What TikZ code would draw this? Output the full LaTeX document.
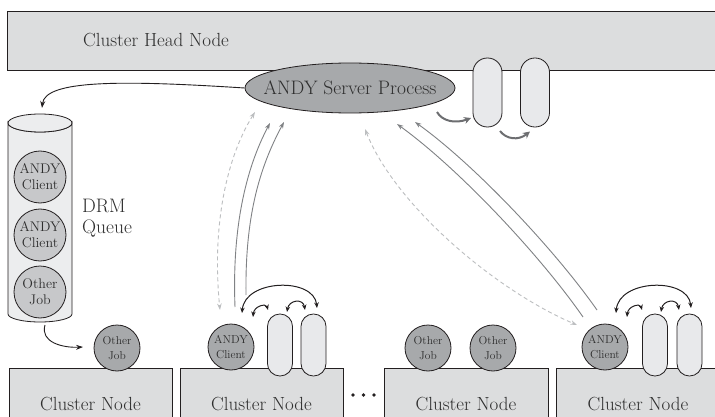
\documentclass[tikz,border=0pt]{standalone}
\usepackage{fontspec}
\usetikzlibrary{arrows.meta,shapes.geometric,calc}

\definecolor{ink}{HTML}{231F20}
\definecolor{txt}{HTML}{2E2E2E}
\definecolor{hostfill}{HTML}{DCDDDE}
\definecolor{procfill}{HTML}{A7A9AB}
\definecolor{queuejob}{HTML}{C7C8CA}
\definecolor{tubefill}{HTML}{E8E9EB}
\definecolor{cylfill}{HTML}{ECEDEE}
\definecolor{msgline}{HTML}{808285}
\definecolor{pollline}{HTML}{BCBEC0}
\definecolor{spawnline}{HTML}{6D6E71}

\tikzset{
  host/.style={draw=ink, line width=0.8pt, fill=hostfill, inner sep=0pt, text=txt,
    font=\fontsize{19}{22}\selectfont},
  job/.style={circle, draw=ink, line width=0.8pt, fill=procfill, inner sep=0pt,
    minimum size=46pt, align=center, text=txt, font=\fontsize{11.5}{14.5}\selectfont},
  queued/.style={job, fill=queuejob, minimum size=52pt, font=\fontsize{14}{16}\selectfont},
  tube/.style={draw=ink, line width=0.8pt, fill=tubefill, inner sep=0pt,
    minimum width=25pt, minimum height=62pt, rounded corners=12.4pt},
  bigtube/.style={tube, minimum width=29pt, minimum height=69pt, rounded corners=14.4pt},
  msg/.style={draw=msgline, line width=0.9pt, -{Stealth[length=6.5pt,width=4.5pt]}},
  poll/.style={draw=pollline, line width=0.9pt, dash pattern=on 4pt off 3pt,
    {Stealth[length=6.5pt,width=4.5pt]}-{Stealth[length=6.5pt,width=4.5pt]}},
  spawn/.style={draw=spawnline, line width=2pt, -{Stealth[length=7pt,width=7pt]}},
  local/.style={draw=ink, line width=1pt,
    {Stealth[length=5.5pt,width=4.5pt]}-{Stealth[length=5.5pt,width=4.5pt]}},
  submit/.style={draw=ink, line width=0.9pt, -{Stealth[length=7pt,width=5pt]}},
}

% client, its two local processes and the arcs between them
\newcommand\clientarcs[1]{%
  \draw[local] ($(#1)+(11,-34)$) .. controls ($(#1)+(14,-68)$) and ($(#1)+(83,-70)$) .. ($(#1)+(86,-39)$);
  \draw[local] ($(#1)+(22,-30)$) .. controls ($(#1)+(23,-41)$) and ($(#1)+(35,-44)$) .. ($(#1)+(37,-37)$);
  \draw[local] ($(#1)+(56,-35)$) .. controls ($(#1)+(58,-47)$) and ($(#1)+(72,-49)$) .. ($(#1)+(74,-37)$);
}

\begin{document}
\begin{tikzpicture}[x=1pt,y=-1pt]
\useasboundingbox (0,0) rectangle (715,417);
\clip (0,0) rectangle (715,417);
\fill[white] (0,0) rectangle (715,417);

% head node with the server process and its two workers
\node[host, minimum width=723pt, minimum height=59pt] (head) at (368.5,40.5) {};
\node[anchor=west, inner sep=0pt, text=txt, font=\fontsize{19}{22}\selectfont] (headlbl) at (83,40) {Cluster Head Node};
\node[ellipse, draw=ink, line width=0.8pt, fill=procfill, inner sep=0pt,
      minimum width=210pt, minimum height=50pt, text=txt,
      font=\fontsize{19.5}{22}\selectfont] (srv) at (350,88) {\makebox[0pt]{ANDY Server Process}};
\node[bigtube] (ht1) at (487.5,92.5) {};
\node[bigtube] (ht2) at (535,92.5) {};

% DRM queue
\filldraw[draw=ink, fill=cylfill, line width=0.8pt]
  (8,123) -- (8,314) arc[start angle=180, end angle=0, x radius=32, y radius=8]
  -- (72,123) arc[start angle=0, end angle=180, x radius=32, y radius=9] -- cycle;
\filldraw[draw=ink, fill=cylfill, line width=0.8pt] (40,123) ellipse [x radius=32, y radius=9];
\coordinate (qtop) at (42,108);
\coordinate (qbot) at (45,325);
\node[queued] (q1) at (40,177) {ANDY\\Client};
\node[queued] (q2) at (40,235) {ANDY\\Client};
\node[queued] (q3) at (40,292) {Other\\Job};
\node[anchor=north west, inner sep=0pt, align=left, text=txt,
      font=\fontsize{19.5}{21}\selectfont] (drm) at (82,199) {DRM\\Queue};

% cluster nodes
\node[host, minimum width=163pt, minimum height=72pt] (cn1) at (90.5,404) {Cluster Node};
\node[host, minimum width=163pt, minimum height=72pt] (cn2) at (261.5,404) {Cluster Node};
\node[host, minimum width=164pt, minimum height=72pt] (cn3) at (466,404) {Cluster Node};
\node[host, minimum width=164pt, minimum height=72pt] (cn4) at (638,404) {Cluster Node};
\foreach \dx in {353,363.5,374} \fill[ink] (\dx,395) circle (1.9pt);

% jobs running on the cluster nodes
\node[job] (oj1) at (117,348) {Other\\Job};
\node[job] (c2) at (231,347) {ANDY\\Client};
\node[tube] (t2a) at (280,345) {};
\node[tube] (t2b) at (313.5,345) {};
\node[job] (oj3a) at (428,348) {Other\\Job};
\node[job] (oj3b) at (493,348) {Other\\Job};
\node[job] (c4) at (605,347) {ANDY\\Client};
\node[tube] (t4a) at (655,345) {};
\node[tube] (t4b) at (689.5,345) {};

% local process arcs
\clientarcs{c2}
\clientarcs{c4}

% submission and dispatch
\draw[submit] (srv.west) .. controls (120,80) and (45,80) .. (qtop);
\draw[submit] (qbot) .. controls (40,342) and (62,348) .. ($(oj1)+(-34,-1)$);

% server hands work to its workers
\draw[spawn] ($(srv)+(87,24)$) .. controls (442,121) and (455,124) .. ($(ht1)+(-16.5,25.5)$);
\draw[spawn] ($(ht1)+(12.5,38.5)$) .. controls (506,139) and (518,141) .. ($(ht2)+(-5,39)$);

% client <-> server traffic
\draw[msg] ($(c2)+(4,-40)$) .. controls (232,230) and (245,170) .. ($(srv)+(-80,35)$);
\draw[msg] ($(c2)+(15,-52)$) .. controls (245,220) and (258,170) .. ($(srv)+(-66,34)$);
\draw[poll] ($(srv)+(-95,24)$) .. controls (225,160) and (212,230) .. ($(c2)+(-11,-37)$);

\draw[msg] ($(c4)+(-8,-37)$) .. controls (555,250) and (475,165) .. ($(srv)+(65,34)$);
\draw[msg] ($(c4)+(-22,-30)$) .. controls (540,255) and (458,168) .. ($(srv)+(47,36)$);
\draw[poll] ($(srv)+(15,41)$) .. controls (395,205) and (495,290) .. ($(c4)+(-28,-22)$);
\end{tikzpicture}
\end{document}
